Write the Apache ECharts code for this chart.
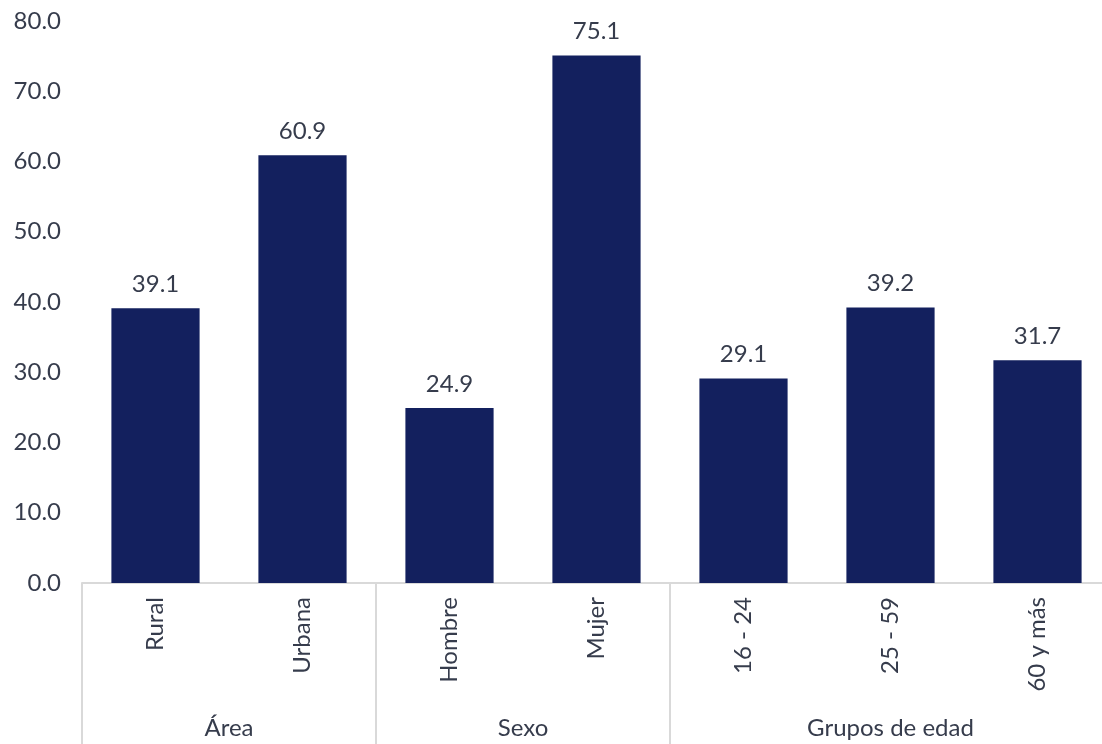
<!DOCTYPE html>
<html><head><meta charset="utf-8">
<script src="https://cdn.jsdelivr.net/npm/echarts@6/dist/echarts.min.js"></script>
<style>html,body{margin:0;padding:0;background:#fff}#c{width:1102px;height:744px}</style>
</head><body><div id="c"></div>
<script>
const categories = ['Rural','Urbana','Hombre','Mujer','16 - 24','25 - 59','60 y más'];
const values = [39.1, 60.9, 24.9, 75.1, 29.1, 39.2, 31.7];
const groups = ['Área','Sexo','Grupos de edad'];
const groupCenters = [1, 3, 5.5];
const groupBounds = [0, 2, 4];
const yTicks = [0,10,20,30,40,50,60,70,80];

const font = 'Lato, "Open Sans", sans-serif';
const txt = '#363c4c';
const fs = 24;
const chart = echarts.init(document.getElementById('c'));
chart.setOption({
  animation:false,
  grid:{left:82, top:21, bottom:161, right:-9, outerBoundsMode:'none', containLabel:false},
  xAxis:[{
    type:'category', data:categories,
    axisLine:{lineStyle:{color:'#d9d9d9', width:2}},
    axisTick:{show:false},
    axisLabel:{rotate:90, margin:14, fontSize:fs, color:txt, fontFamily:font}
  },{
    type:'value', min:0, max:categories.length, position:'bottom',
    axisLine:{show:false}, splitLine:{show:false},
    axisTick:{show:true, customValues:groupBounds, length:161, lineStyle:{color:'#d9d9d9', width:2}},
    axisLabel:{customValues:groupCenters, margin:133, fontSize:fs, color:txt, fontFamily:font,
      formatter:v=>groups[groupCenters.indexOf(v)] || ''}
  }],
  yAxis:{type:'value', min:yTicks[0], max:yTicks[yTicks.length-1], interval:10,
    axisLine:{show:false}, axisTick:{show:false}, splitLine:{show:false},
    axisLabel:{margin:21, fontSize:fs, color:txt, fontFamily:font, formatter:v=>v.toFixed(1)}},
  series:[{type:'bar', data:values, xAxisIndex:0, barCategoryGap:'40%',
    itemStyle:{color:'#13205E'},
    label:{show:true, position:'top', distance:12, fontSize:fs, color:txt, fontFamily:font,
      formatter:p=>p.value.toFixed(1)}}]
});
</script></body></html>
